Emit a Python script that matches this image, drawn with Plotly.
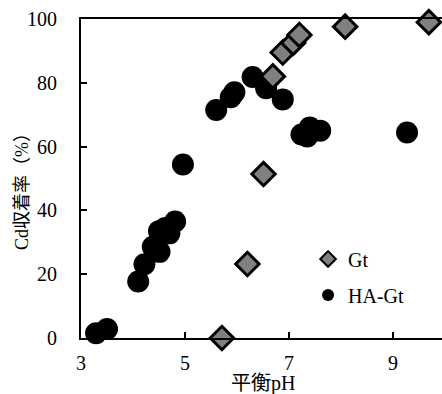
import plotly.graph_objects as go

# Data
gt_ph = [5.71, 6.20, 6.51, 6.69, 6.88, 7.08, 7.20, 8.08, 9.69]
gt_cd = [0.0, 23.2, 51.4, 82.0, 89.5, 92.5, 95.0, 97.6, 99.0]

hagt_ph = [3.29, 3.50, 4.10, 4.22, 4.38, 4.51, 4.50, 4.62, 4.70, 4.81, 4.96,
           5.60, 5.88, 5.95, 6.30, 6.56, 6.88, 7.24, 7.40, 7.60, 7.35, 9.27]
hagt_cd = [1.5, 2.8, 17.7, 23.1, 28.6, 27.0, 33.5, 34.5, 32.8, 36.5, 54.4,
           71.5, 75.5, 77.0, 81.8, 78.3, 74.8, 63.8, 66.0, 65.0, 63.2, 64.4]

x_ticks = [3, 5, 7, 9]
y_ticks = [0, 20, 40, 60, 80, 100]

FONT = "Times New Roman, Liberation Serif, Noto Sans CJK JP, serif"

fig = go.Figure()
fig.add_trace(go.Scatter(
    x=hagt_ph, y=hagt_cd, mode="markers", name="HA-Gt", legendgroup="b",
    legendrank=2,
    marker=dict(symbol="circle", size=22, color="black", line=dict(width=0)),
    cliponaxis=False,
))
fig.add_trace(go.Scatter(
    x=gt_ph, y=gt_cd, mode="markers", name="Gt", legendgroup="a",
    legendrank=1,
    marker=dict(symbol="diamond", size=18, color="#808080",
                line=dict(color="black", width=3)),
    cliponaxis=False,
))

fig.update_layout(
    width=442, height=394,
    margin=dict(l=81, r=0, t=19, b=56),
    paper_bgcolor="white", plot_bgcolor="white",
    font=dict(family=FONT, size=20, color="black"),
    showlegend=True,
    hovermode=False,
    legend=dict(
        x=0.629, y=0.309, xanchor="left", yanchor="top",
        traceorder="grouped", itemsizing="constant",
        tracegroupgap=7,
        bgcolor="rgba(0,0,0,0)", font=dict(size=20),
    ),
    xaxis=dict(
        range=[3, 3 + 361 / 52], tickvals=x_ticks,
        ticks="inside", ticklen=6, tickwidth=2, tickcolor="black",
        showline=True, linecolor="black", linewidth=2, mirror=True,
        showgrid=False, zeroline=False, ticklabelstandoff=6,
    ),
    yaxis=dict(
        range=[0, 100], tickvals=y_ticks,
        ticks="inside", ticklen=6, tickwidth=2, tickcolor="black",
        showline=True, linecolor="black", linewidth=2, mirror=False,
        showgrid=False, zeroline=False, ticklabelstandoff=18,
    ),
    annotations=[
        dict(text="Cd収着率（%）", xref="paper", yref="paper",
             x=(22 - 81) / 361, y=(338 - 187) / 319, showarrow=False,
             textangle=-90, font=dict(size=18), xanchor="center", yanchor="middle"),
        dict(text="平衡pH", xref="paper", yref="paper",
             x=(263 - 81) / 361, y=(338 - 383) / 319, showarrow=False,
             font=dict(size=20), xanchor="center", yanchor="middle"),
    ],
)

fig.write_html("out.html", config={"displayModeBar": False},
               post_script="document.body.style.margin='0';document.body.style.overflow='hidden';")
